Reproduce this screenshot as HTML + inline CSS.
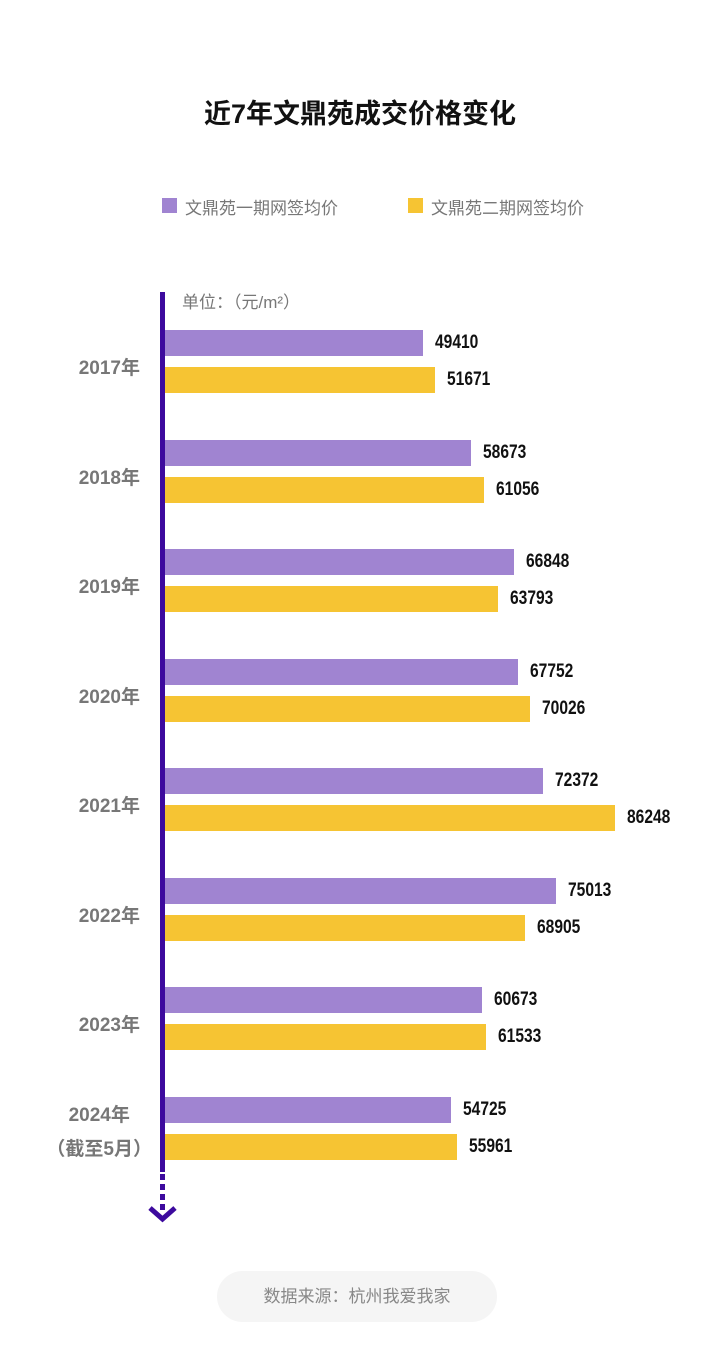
<!DOCTYPE html>
<html><head><meta charset="utf-8"><style>
body{margin:0;width:720px;height:1366px;background:#fff;position:relative;overflow:hidden;font-family:"Liberation Sans","Noto Sans CJK SC",sans-serif}
.a{position:absolute}
.t{left:0;width:720px;top:92px;text-align:center;font-size:27px;font-weight:bold;color:#111}
.bar{position:absolute;left:165px;height:26px}
.p{background:#a084d1}.y{background:#f6c433}
.v{position:absolute;font-size:19px;font-weight:bold;color:#111;font-family:"Liberation Sans",sans-serif;transform:scaleX(0.82);transform-origin:left center}
.yr{position:absolute;right:580px;font-size:19px;font-weight:bold;color:#777;text-align:right;white-space:nowrap}
</style></head><body>
<div class="a t">近7年文鼎苑成交价格变化</div>
<div class="a" style="left:162px;top:198px;width:15px;height:15px;background:#a084d1"></div>
<div class="a" style="left:185px;top:194px;font-size:17px;color:#777">文鼎苑一期网签均价</div>
<div class="a" style="left:408px;top:198px;width:15px;height:15px;background:#f6c433"></div>
<div class="a" style="left:431px;top:194px;font-size:17px;color:#777">文鼎苑二期网签均价</div>
<div class="a" style="left:182px;top:288px;font-size:17px;color:#777">单位：（元/m²）</div>
<div class="a" style="left:160px;top:292px;width:5px;height:880px;background:#3d0a9e"></div>
<svg class="a" style="left:145px;top:1172px" width="36" height="60"><line x1="17.5" y1="2" x2="17.5" y2="38" stroke="#3d0a9e" stroke-width="5" stroke-dasharray="6,4"/><polyline points="5,36 17.5,47 30,36" fill="none" stroke="#3d0a9e" stroke-width="5"/></svg>
<div id="c"></div>
<div class="a" style="left:217px;top:1271px;width:280px;height:51px;border-radius:26px;background:#f5f5f5;text-align:center;line-height:51px;font-size:17px;color:#888">数据来源：杭州我爱我家</div>
<script>
var d=[["2017年",49410,51671],["2018年",58673,61056],["2019年",66848,63793],["2020年",67752,70026],["2021年",72372,86248],["2022年",75013,68905],["2023年",60673,61533],["2024年",54725,55961]];
var h="",k=450/86248;
d.forEach(function(r,i){var y=330+109.5*i;
var w1=r[1]*k,w2=r[2]*k;
h+='<div class="bar p" style="top:'+y+'px;width:'+w1+'px"></div>';
h+='<div class="bar y" style="top:'+(y+37)+'px;width:'+w2+'px"></div>';
h+='<div class="v" style="left:'+(165+w1+12)+'px;top:'+(y+2)+'px">'+r[1]+'</div>';
h+='<div class="v" style="left:'+(165+w2+12)+'px;top:'+(y+39)+'px">'+r[2]+'</div>';
if(i<7)h+='<div class="yr" style="top:'+(y+23)+'px">'+r[0]+'</div>';
else h+='<div class="yr" style="top:'+(y+2)+'px;right:568px;text-align:center;line-height:34px">2024年<br>（截至5月）</div>';
});
document.getElementById("c").innerHTML=h;
</script>
</body></html>
